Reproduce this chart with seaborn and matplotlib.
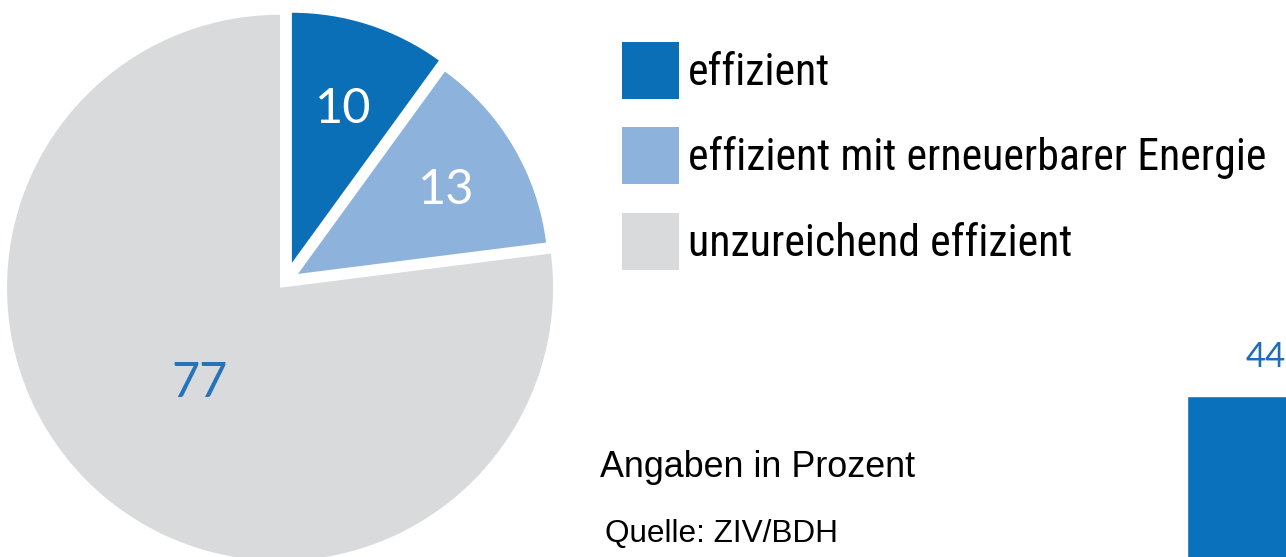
import matplotlib
matplotlib.use("Agg")
import matplotlib.pyplot as plt
from matplotlib import font_manager
from matplotlib.font_manager import FontProperties
import seaborn as sns
import numpy as np

# Heizungsbestand nach Effizienz (Angaben in Prozent)
labels = ["effizient", "effizient mit erneuerbarer Energie", "unzureichend effizient"]
values = [10, 13, 77]
colors = ["#0b6fb8", "#8db3dd", "#d9dadc"]
value_colors = ["white", "white", "#2474bb"]

# angeschnittener Balken der naechsten Grafik (rechts unten)
bar_categories = ["Teilansicht"]
bar_values = [440]

sns.set_theme(style="white")

W, H = 1286, 557
fig = plt.figure(figsize=(W / 100, H / 100), dpi=100)

SANS = ("Liberation Sans", "DejaVu Sans", "Noto Sans", "Roboto", "Open Sans", "Lato", "Inter")


def narrow_candidates():
    """Schmale Groteskschriften (aehnlich Arial Narrow) unter den installierten Fonts."""
    out = []
    for f in font_manager.fontManager.ttflist:
        if f.style != "normal" or f.weight not in (400, "normal", "regular", "book"):
            continue
        if not f.name.startswith(SANS) or "Mono" in f.name or "CJK" in f.name:
            continue
        if "Condensed" in f.name or "Narrow" in f.name or str(f.stretch) in (
                "condensed", "semi-condensed", "extra-condensed"):
            out.append(f.fname)
    return out


# Schrift waehlen, bei der ~578 px Zeilenbreite etwa 34.5 pt Groesse ergeben
target = 34.5
best_fp, legend_size = None, None
for fname in narrow_candidates() + [None]:
    fp = FontProperties(fname=fname) if fname else FontProperties(family="Liberation Sans")
    probe = fig.text(0, 0, labels[1], fontproperties=fp, fontsize=30)
    fig.canvas.draw()
    size = 30 * 578 / probe.get_window_extent().width
    probe.remove()
    if legend_size is None or abs(size - target) < abs(legend_size - target):
        best_fp, legend_size = fp, size
legend_size = min(legend_size, 35)
legend_fp = best_fp.copy()
legend_fp.set_size(legend_size)

num_font = ["Lato", "DejaVu Sans"]

# Kreisdiagramm: grauer Teil gross, blaue Teile etwas kleiner und herausgerueckt
r_px = 273
ax = fig.add_axes([(286 - 1.1 * r_px) / W, (276 - 1.1 * r_px) / H, 2.2 * r_px / W, 2.2 * r_px / H])
w_gray, _ = ax.pie(values, colors=["none", "none", colors[2]], startangle=90,
                   counterclock=False, explode=[0, 0, 0.033], radius=1.0,
                   wedgeprops=dict(linewidth=0))
w_blue, _ = ax.pie(values, colors=[colors[0], colors[1], "none"], startangle=90,
                   counterclock=False, explode=[0.07, 0.051, 0], radius=0.916,
                   wedgeprops=dict(linewidth=0))
ax.set_xlim(-1.1, 1.1)
ax.set_ylim(-1.1, 1.1)
ax.set_aspect("equal")

wedges = [w_blue[0], w_blue[1], w_gray[2]]
label_dist = [0.607, 0.63, 0.444]
for w, val, d, c in zip(wedges, values, label_dist, value_colors):
    ang = np.deg2rad((w.theta1 + w.theta2) / 2)
    cx, cy = w.center
    ax.text(cx + d * np.cos(ang), cy + d * np.sin(ang), str(val), color=c,
            fontsize=35, family=num_font, fontweight="normal",
            ha="center", va="center_baseline")

# Legende mit grossen Quadraten
F = legend_size * 100 / 72
sq = 57
hh = (sq / F - 0.245) / 0.65
leg = fig.legend(wedges, labels, loc="upper left", bbox_to_anchor=(622 / W, 1 - 41.7 / H),
                 frameon=False, prop=legend_fp,
                 handlelength=sq / F, handleheight=hh, handletextpad=0.2,
                 labelspacing=28.5 / F, borderpad=0, borderaxespad=0)
for t in leg.get_texts():
    t.set_color("black")

fig.text(600 / W, (H - 477) / H, "Angaben in Prozent", family="Liberation Sans",
         fontsize=25.8, color="black", va="baseline", ha="left")
fig.text(605 / W, (H - 542) / H, "Quelle: ZIV/BDH", family="Liberation Sans",
         fontsize=22.7, color="black", va="baseline", ha="left")

# Balken rechts unten, vom Bildrand abgeschnitten
bax = fig.add_axes([1165 / W, -100 / H, 222 / W, 296.6 / H])
sns.barplot(x=bar_categories, y=bar_values, ax=bax, color="#0a72bd",
            saturation=1, width=0.8)
bax.set_xlim(-0.5, 0.5)
bax.set_ylim(0, 500)
bax.axis("off")
bax.annotate(str(bar_values[0]), xy=(0, bar_values[0]), xytext=(0, 29),
             textcoords="offset pixels", ha="center", va="baseline",
             fontsize=25, family=num_font, color="#1f6db5")

fig.savefig("out.png", dpi=100)
